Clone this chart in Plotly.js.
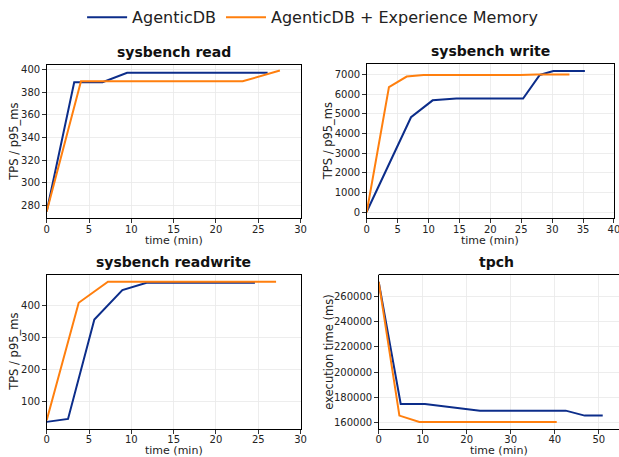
<!DOCTYPE html>
<html><head><meta charset="utf-8">
<script src="https://cdn.plot.ly/plotly-3.0.1.min.js"></script>
<style>html,body{margin:0;padding:0;background:#fff}#plot{width:619px;height:457px}</style>
</head><body><div id="plot"></div>
<script>
const seriesNames = ["AgenticDB", "AgenticDB + Experience Memory"];
const colors = ["#0c2d8a", "#ff7f0e"];

// sysbench read
const readBaseX = [0, 3.25, 6.6, 9.5, 26.1];
const readBaseY = [274.5, 389, 389, 397.4, 397.4];
const readMemX = [0, 4.05, 23.15, 27.55];
const readMemY = [274.5, 389.8, 389.8, 399.4];

// sysbench write
const writeBaseX = [0, 7.17, 10.67, 14.5, 25.3, 28.0, 30.2, 35.3];
const writeBaseY = [30, 4830, 5690, 5780, 5780, 6980, 7185, 7185];
const writeMemX = [0, 3.6, 6.47, 9.2, 24.8, 27.5, 32.8];
const writeMemY = [0, 6360, 6900, 6980, 6980, 7000, 7000];

// sysbench readwrite
const rwBaseX = [0, 2.52, 5.63, 8.94, 11.8, 24.6];
const rwBaseY = [34.6, 43.9, 355.3, 447.8, 470.6, 470.6];
const rwMemX = [0, 3.78, 7.24, 27.1];
const rwMemY = [39.7, 408, 473.7, 473.7];

// tpch
const tpchBaseX = [0, 5.0, 10.5, 23.0, 42.5, 46.8, 50.9];
const tpchBaseY = [271500, 174900, 174900, 169700, 169700, 165760, 165760];
const tpchMemX = [0, 4.7, 9.24, 40.45];
const tpchMemY = [271500, 165760, 160800, 160800];

const titles = ["sysbench read", "sysbench write", "sysbench readwrite", "tpch"];
const xTitle = "time (min)";
const yTitles = ["TPS / p95_ms", "TPS / p95_ms", "TPS / p95_ms", "execution time (ms)"];
const xTickVals = [[0,5,10,15,20,25,30],[0,5,10,15,20,25,30,35,40],[0,5,10,15,20,25,30],[0,10,20,30,40,50]];
const yTickVals = [[280,300,320,340,360,380,400],[0,1000,2000,3000,4000,5000,6000,7000],[100,200,300,400],[160000,180000,200000,220000,240000,260000]];

const data = [
  [readBaseX, readBaseY, readMemX, readMemY],
  [writeBaseX, writeBaseY, writeMemX, writeMemY],
  [rwBaseX, rwBaseY, rwMemX, rwMemY],
  [tpchBaseX, tpchBaseY, tpchMemX, tpchMemY]
];

const traces = [];
data.forEach((d, i) => {
  const sfx = i === 0 ? "" : String(i + 1);
  traces.push({x: d[0], y: d[1], mode: "lines", name: seriesNames[0], line: {color: colors[0], width: 2},
    xaxis: "x" + sfx, yaxis: "y" + sfx, showlegend: i === 0, legendgroup: "a"});
  traces.push({x: d[2], y: d[3], mode: "lines", name: seriesNames[1], line: {color: colors[1], width: 2},
    xaxis: "x" + sfx, yaxis: "y" + sfx, showlegend: i === 0, legendgroup: "b"});
});

const W = 619, H = 457;
const boxes = [
  {l: 46.7, r: 300.7, t: 62.7, b: 216.7, xr: [0, 30.01], yr: [268.5, 404], yt: 14, xt: 239},
  {l: 366.7, r: 614, t: 61.7, b: 216.7, xr: [0, 40.01], yr: [-303, 7522], yt: 328, xt: 239},
  {l: 46.7, r: 300.7, t: 273.3, b: 429, xr: [0, 30.01], yr: [11.7, 496.6], yt: 14, xt: 450.5},
  {l: 378.7, r: 619, t: 273.3, b: 429, xr: [0, 54.6], yr: [155030, 277280], yt: 329, xt: 450.5}
];

const font = "DejaVu Sans, Liberation Sans, sans-serif";
const layout = {
  width: W, height: H,
  margin: {l: 0, r: 0, t: 0, b: 0},
  paper_bgcolor: "#fff", plot_bgcolor: "#fff",
  font: {family: font, color: "#222", size: 10},
  showlegend: true,
  legend: {orientation: "h", x: 0.505, xanchor: "center", y: 1.006, yanchor: "top",
    font: {size: 16, color: "#222", family: font}, itemwidth: 40},
  annotations: [], shapes: []
};

boxes.forEach((b, i) => {
  const sfx = i === 0 ? "" : String(i + 1);
  const last = i === 3;
  layout["xaxis" + sfx] = {
    domain: [b.l / W, b.r / W], range: b.xr, anchor: "y" + sfx,
    tickvals: xTickVals[i], ticks: "outside", ticklen: 3.5, tickwidth: 0.8, tickcolor: "#000",
    showline: true, linecolor: "#000", linewidth: 1, mirror: last ? false : true,
    showgrid: true, gridcolor: "#e8e8e8", gridwidth: 0.8, zeroline: false,
    tickfont: {size: 10, color: "#222", family: font}, tickformat: "d", ticklabeloverflow: "allow",
    ticklabelstandoff: i >= 2 ? -3 : -2
  };
  layout["yaxis" + sfx] = {
    domain: [1 - b.b / H, 1 - b.t / H], range: b.yr, anchor: "x" + sfx,
    tickvals: yTickVals[i], ticks: "outside", ticklen: 3.5, tickwidth: 0.8, tickcolor: "#000",
    showline: true, linecolor: "#000", linewidth: 1, mirror: last ? false : true,
    showgrid: true, gridcolor: "#e8e8e8", gridwidth: 0.8, zeroline: false,
    tickfont: {size: 10, color: "#222", family: font}, tickformat: "d", ticklabeloverflow: "allow"
  };
  const cx = (b.l + Math.min(b.r, 614)) / 2;
  layout.annotations.push({
    text: "<b>" + titles[i] + "</b>", xref: "paper", yref: "paper",
    x: cx / W, y: 1 - (b.t - 3) / H, xanchor: "center", yanchor: "bottom",
    showarrow: false, font: {size: 14, color: "#111", family: font}
  });
  layout.annotations.push({
    text: xTitle, xref: "paper", yref: "paper", borderpad: 0,
    x: (i === 3 ? 499 : cx) / W, y: 1 - b.xt / H, xanchor: "center", yanchor: "middle",
    showarrow: false, font: {size: 11, color: "#222", family: font}
  });
  layout.annotations.push({
    text: yTitles[i], xref: "paper", yref: "paper", textangle: -90,
    x: b.yt / W, y: 1 - (b.t + b.b) / 2 / H, xanchor: "center", yanchor: "middle",
    showarrow: false, font: {size: 11.5, color: "#222", family: font}
  });
  if (last) {
    layout.shapes.push({type: "line", xref: "paper", yref: "paper",
      x0: b.l / W, x1: 1, y0: 1 - b.t / H, y1: 1 - b.t / H, line: {color: "#000", width: 1}});
  }
});

Plotly.newPlot("plot", traces, layout, {displayModeBar: false, staticPlot: true});
</script></body></html>
